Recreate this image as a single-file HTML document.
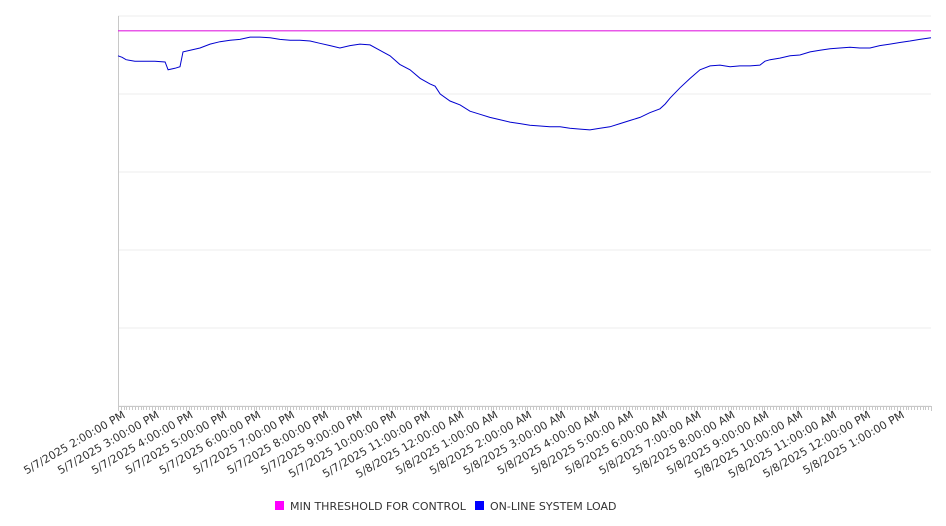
<!DOCTYPE html>
<html><head><meta charset="utf-8"><style>
body{margin:0;background:#fff;}
svg{display:block;font-family:"DejaVu Sans","Liberation Sans",sans-serif;}
</style></head><body>
<svg id="chart" width="946" height="526" viewBox="0 0 946 526"></svg>
<script>
const hourLabels=["5/7/2025 2:00:00 PM","5/7/2025 3:00:00 PM","5/7/2025 4:00:00 PM","5/7/2025 5:00:00 PM","5/7/2025 6:00:00 PM","5/7/2025 7:00:00 PM","5/7/2025 8:00:00 PM","5/7/2025 9:00:00 PM","5/7/2025 10:00:00 PM","5/7/2025 11:00:00 PM","5/8/2025 12:00:00 AM","5/8/2025 1:00:00 AM","5/8/2025 2:00:00 AM","5/8/2025 3:00:00 AM","5/8/2025 4:00:00 AM","5/8/2025 5:00:00 AM","5/8/2025 6:00:00 AM","5/8/2025 7:00:00 AM","5/8/2025 8:00:00 AM","5/8/2025 9:00:00 AM","5/8/2025 10:00:00 AM","5/8/2025 11:00:00 AM","5/8/2025 12:00:00 PM","5/8/2025 1:00:00 PM"];
const yTicks=[0,100,200,300,400,500];
const thresholdValue=481;
const loadHours=[0,0.12,0.24,0.5,0.8,1.09,1.39,1.48,1.68,1.83,1.92,2.13,2.42,2.72,3.01,3.31,3.6,3.9,4.19,4.49,4.78,5.08,5.37,5.67,5.96,6.26,6.55,6.85,7.14,7.44,7.73,8.03,8.32,8.62,8.92,9.21,9.36,9.51,9.8,10.1,10.39,10.69,10.98,11.28,11.57,11.87,12.16,12.46,12.75,13.05,13.34,13.64,13.93,14.23,14.52,14.82,15.11,15.41,15.7,16,16.15,16.3,16.59,16.89,17.18,17.48,17.77,18.07,18.36,18.66,18.95,19.1,19.25,19.54,19.84,20.13,20.43,20.72,21.02,21.31,21.61,21.9,22.2,22.49,22.79,23.08,23.23,23.38,23.67,24];
const loadValues=[449,447,444,442,442,442,441,431,433,435,454,456,459,464,467,469,470,473,473,472,470,469,469,468,465,462,459,462,464,463,456,449,438,431,420,413,410,400,391,386,378,374,370,367,364,362,360,359,358,358,356,355,354,356,358,362,366,370,376,381,387,395,408,420,431,436,437,435,436,436,437,442,444,446,449,450,454,456,458,459,460,459,459,462,464,466,467,468,470,472];

const svg=document.getElementById('chart');
const NS='http://www.w3.org/2000/svg';
const L=118,R=931,T=16,B=406;
const xs=h=>L+h/24*(R-L);
const ys=v=>B-v/500*(B-T);
function mk(tag,attrs,parent){const e=document.createElementNS(NS,tag);for(const k in attrs)e.setAttribute(k,attrs[k]);(parent||svg).appendChild(e);return e;}

yTicks.forEach(v=>{
  const g=mk('line',{x1:L,x2:R,y1:ys(v),y2:ys(v),stroke:'#ececec','stroke-width':1});
  
  
});
const ya=mk('line',{x1:L+0.5,x2:L+0.5,y1:T,y2:B,stroke:'#c8c8c8'});


const xa=mk('line',{x1:L,x2:R,y1:B+0.5,y2:B+0.5,stroke:'#c8c8c8'});


for(let m=0;m<=24*60;m+=5){
  const x=Math.round(xs(m/60))+0.5;
  const t=mk('line',{x1:x,x2:x,y1:B,y2:B+(m%60===0?5:4),stroke:'#c8c8c8'});
  
  
}
hourLabels.forEach((lab,i)=>{
  const x=xs(i)+8;
  const t=mk('text',{x:x,y:B+11,'text-anchor':'end','font-size':11,fill:'#333',transform:`rotate(-30 ${x} ${B+11})`});
  t.textContent=lab;
  
  
});
const th=mk('line',{x1:L,x2:R,y1:ys(thresholdValue),y2:ys(thresholdValue),stroke:'#e020e0','stroke-width':1.2});


const pts=loadHours.map((h,i)=>xs(h).toFixed(1)+','+ys(loadValues[i]).toFixed(1)).join(' ');
const ln=mk('polyline',{points:pts,fill:'none',stroke:'#0000d0','stroke-width':1});



const lg=mk('g',{});


const items=[['MIN THRESHOLD FOR CONTROL','#ff00ff',275],['ON-LINE SYSTEM LOAD','#0000ff',475]];
items.forEach(([n,c,x])=>{
  const gi=mk('g',{},lg);
  
  
  mk('rect',{x:x,y:501,width:9,height:9,fill:c},gi);
  const t=mk('text',{x:x+15,y:510,'font-size':11,fill:'#333'},gi);
  t.textContent=n;
});
</script>
</body></html>
